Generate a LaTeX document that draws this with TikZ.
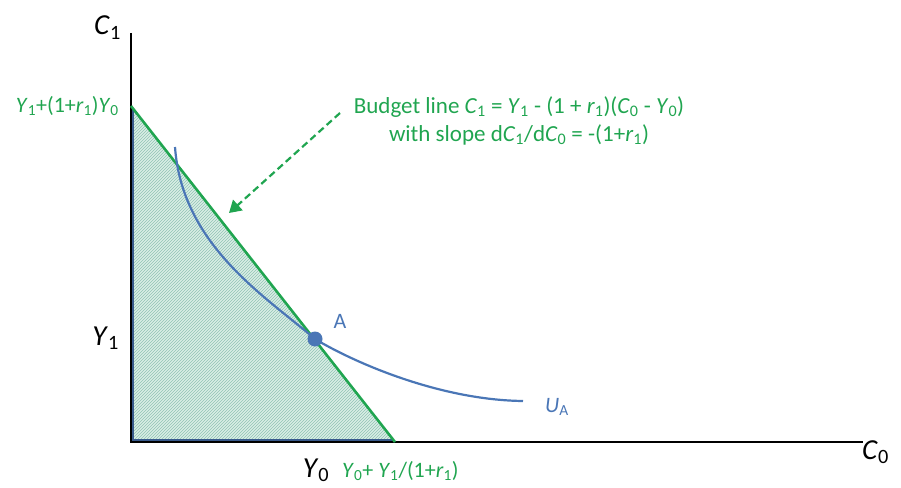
\documentclass[tikz,border=0pt]{standalone}
\usepackage{fontspec}
\setmainfont{Carlito}
\usetikzlibrary{patterns,arrows.meta}
\definecolor{bgreen}{RGB}{32,165,80}
\definecolor{cblue}{RGB}{74,118,182}
\definecolor{eblue}{RGB}{56,90,140}
\definecolor{hatch}{RGB}{145,195,180}
\definecolor{hfill}{RGB}{218,238,230}
\newcommand{\iv}[1]{\textit{#1}}
\newcommand{\lsub}[1]{\textsubscript{#1}}
\tikzset{
  axis/.style={line width=2.6pt,black},
  lbl/.style={inner sep=0pt,font=\fontsize{29}{32}\selectfont},
  glbl/.style={inner sep=0pt,text=bgreen,font=\fontsize{22}{26}\selectfont},
  btxt/.style={inner sep=0pt,text=bgreen,align=center,font=\fontsize{23}{28}\selectfont},
  blbl/.style={inner sep=0pt,text=cblue,font=\fontsize{22}{26}\selectfont},
}
\begin{document}
\begin{tikzpicture}[x=1pt,y=-1pt]
\useasboundingbox (0,0) rectangle (901,487);
\coordinate (O) at (131,442);
\coordinate (ytop) at (131,33);
\coordinate (xend) at (863,442);
\coordinate (B1) at (131,106);
\coordinate (B0) at (395,442);
% shaded region
\fill[hfill] (O) -- (B1) -- (B0) -- cycle;
\fill[pattern=north east lines,pattern color=hatch] (O) -- (B1) -- (B0) -- cycle;
% axes
\draw[axis] (ytop) -- (O) -- (xend);
\draw[eblue,line width=2pt] (133,108) -- (133,440) -- (393,440);
\draw[bgreen,line width=2.6pt] (B1) -- (B0);
% indifference curve
\coordinate (U0) at (175,147);
\coordinate (A) at (315,339);
\coordinate (U1) at (523,401);
\draw[cblue,line width=2.2pt] (U0) .. controls (182,245) and (265,296) .. (A)
  .. controls (355,363) and (440,400) .. (U1);
\fill[cblue] (A) circle (7.5);
% labels
\node[lbl,anchor=base east] (c1) at (121,35) {\iv{C}\lsub{1}};
\node[lbl,anchor=base west] (c0) at (862,459) {\iv{C}\lsub{0}};
\node[lbl,anchor=base east] (y1) at (119,345) {\iv{Y}\lsub{1}};
\node[lbl,anchor=base] (y0) at (316,477) {\iv{Y}\lsub{0}};
\node[glbl,anchor=base west] (yint) at (342,477) {\iv{Y}\lsub{0}+ \iv{Y}\lsub{1}/(1+\iv{r}\lsub{1})};
\node[glbl,anchor=base east] (xint) at (119,112) {\iv{Y}\lsub{1}+(1+\iv{r}\lsub{1})\iv{Y}\lsub{0}};
\node[blbl,anchor=base] (alab) at (340,328) {A};
\node[blbl,anchor=base west] (ua) at (545,412) {\iv{U}\lsub{A}};
\node[btxt,anchor=north] (bud) at (519,96) {Budget line \iv{C}\lsub{1} = \iv{Y}\lsub{1} - (1 + \iv{r}\lsub{1})(\iv{C}\lsub{0} - \iv{Y}\lsub{0})\\with slope d\iv{C}\lsub{1}/d\iv{C}\lsub{0} = -(1+\iv{r}\lsub{1})};
\coordinate (arrS) at (340,113);
\coordinate (arrE) at (229,213);
\draw[bgreen,line width=2.2pt,dash pattern=on 7pt off 4pt,-{Triangle[length=12pt,width=14pt]}] (arrS) -- (arrE);
\end{tikzpicture}
\end{document}
